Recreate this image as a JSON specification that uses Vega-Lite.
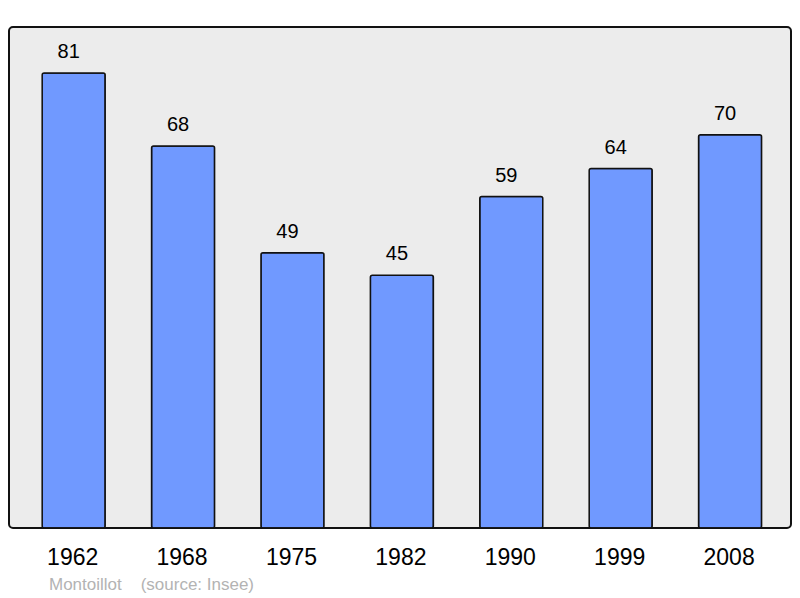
{
  "$schema": "https://vega.github.io/schema/vega-lite/v6.json",
  "width": 782,
  "height": 501,
  "padding": {"left": 9, "top": 27, "right": 9, "bottom": 5},
  "autosize": {"type": "pad"},
  "background": "#ffffff",
  "config": {
    "view": {"fill": "#ececec", "stroke": "#111111", "strokeWidth": 2, "cornerRadius": 4},
    "font": "Liberation Sans"
  },
  "title": {
    "text": "Montoillot\u00a0\u00a0\u00a0\u00a0(source: Insee)",
    "orient": "bottom",
    "anchor": "start",
    "dx": 40,
    "offset": 8,
    "color": "#b3b3b3",
    "fontSize": 17,
    "fontWeight": "normal",
    "font": "Liberation Sans"
  },
  "data": {
    "values": [
      {"year": "1962", "pop": 81},
      {"year": "1968", "pop": 68},
      {"year": "1975", "pop": 49},
      {"year": "1982", "pop": 45},
      {"year": "1990", "pop": 59},
      {"year": "1999", "pop": 64},
      {"year": "2008", "pop": 70}
    ]
  },
  "encoding": {
    "x": {
      "field": "year",
      "type": "ordinal",
      "sort": null,
      "scale": {"paddingInner": 0.424, "paddingOuter": 0.286, "align": 0.53},
      "axis": {
        "title": null,
        "domain": false,
        "ticks": false,
        "labelPadding": 18,
        "labelFontSize": 23,
        "labelColor": "#000000",
        "labelFont": "Liberation Sans",
        "labelAngle": 0,
        "labelOffset": -1
      }
    },
    "y": {
      "field": "pop",
      "type": "quantitative",
      "scale": {"domain": [0, 89.2], "nice": false, "zero": true},
      "axis": null
    }
  },
  "layer": [
    {
      "mark": {"type": "bar", "fill": "#7099ff", "stroke": "#111111", "strokeWidth": 1.5, "cornerRadius": 2}
    },
    {
      "mark": {"type": "text", "baseline": "alphabetic", "dy": -15, "dx": -5, "fontSize": 20, "color": "#000000", "font": "Liberation Sans"},
      "encoding": {"text": {"field": "pop", "type": "quantitative"}}
    }
  ]
}
